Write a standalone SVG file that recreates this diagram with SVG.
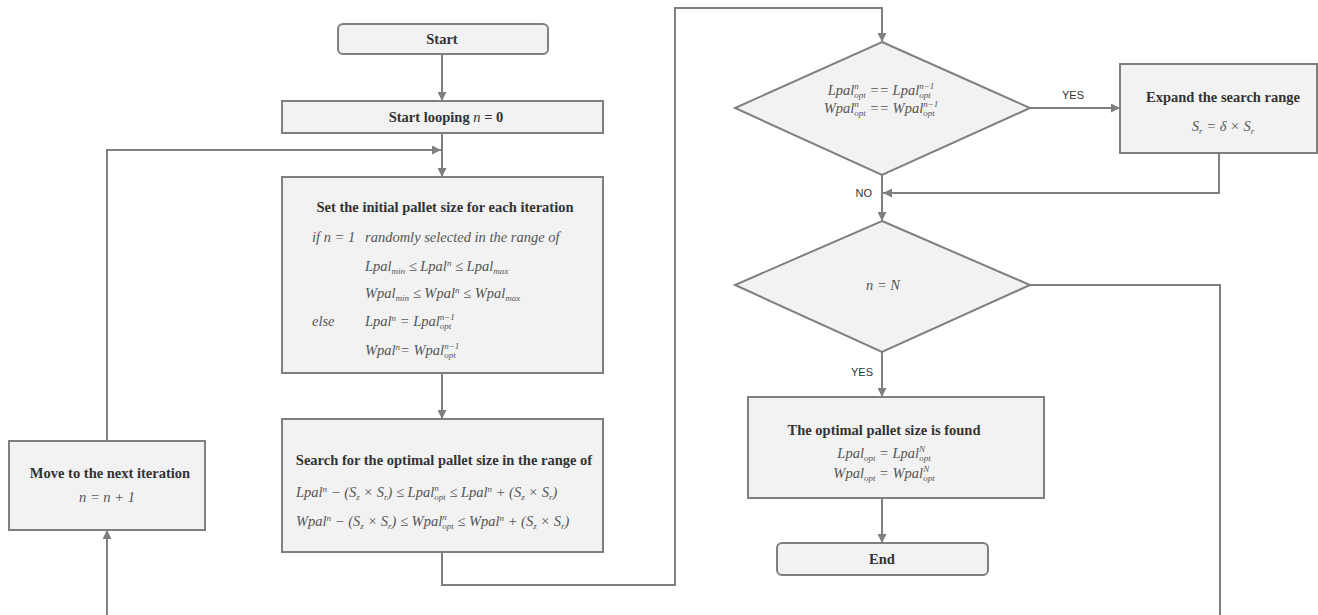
<svg xmlns="http://www.w3.org/2000/svg" width="1318" height="615" viewBox="0 0 1318 615">
<defs>
<marker id="ah" viewBox="0 0 10 10" refX="10" refY="5" markerWidth="9" markerHeight="9" markerUnits="userSpaceOnUse" orient="auto"><path d="M0,0 L10,5 L0,10 z" fill="#7f7f7f"/></marker>
<style>
.box{fill:#f2f2f2;stroke:#7f7f7f;stroke-width:2}
.ln{fill:none;stroke:#7f7f7f;stroke-width:2}
.t{font-family:"Liberation Serif","Times New Roman",serif;font-weight:bold;font-size:14.5px;fill:#333;text-anchor:middle}
.m{font-family:"Liberation Serif","Times New Roman",serif;font-style:italic;font-size:14.5px;fill:#555}
.c{text-anchor:middle}
.s{font-size:9px}
.lb{font-family:"Liberation Sans",Arial,sans-serif;font-size:11px;fill:#333}
</style>
</defs>
<rect width="1318" height="615" fill="#ffffff"/>
<g id="connectors">
<path class="ln" d="M442,54 V101" marker-end="url(#ah)"/>
<path class="ln" d="M442,133 V177" marker-end="url(#ah)"/>
<path class="ln" d="M107,440 V150 H441" marker-end="url(#ah)"/>
<path class="ln" d="M442,373 V419" marker-end="url(#ah)"/>
<path class="ln" d="M442,552 V585 H675 V8 H882 V42" marker-end="url(#ah)"/>
<path class="ln" d="M1030,108 H1120" marker-end="url(#ah)"/>
<path class="ln" d="M1219,153 V193 H883" marker-end="url(#ah)"/>
<path class="ln" d="M882,175 V221" marker-end="url(#ah)"/>
<path class="ln" d="M1030,285 H1220 V615"/>
<path class="ln" d="M882,352 V397" marker-end="url(#ah)"/>
<path class="ln" d="M882,498 V543" marker-end="url(#ah)"/>
<path class="ln" d="M107,615 V530" marker-end="url(#ah)"/>
<text class="lb" x="1073" y="99" text-anchor="middle">YES</text>
<text class="lb" x="872" y="197" text-anchor="end">NO</text>
<text class="lb" x="873" y="376" text-anchor="end">YES</text>
</g>
<g id="start">
<rect class="box" x="338" y="24" width="210" height="30" rx="5"/>
<text class="t" x="442" y="44">Start</text>
</g>
<g id="start-loop">
<rect class="box" x="282" y="101" width="321" height="32"/>
<text class="t" x="446" y="122">Start looping  <tspan font-style="italic" font-weight="normal">n</tspan> = 0</text>
</g>
<g id="set-initial">
<rect class="box" x="282" y="177" width="321" height="196"/>
<text class="t" x="445" y="212">Set the initial pallet size for each iteration</text>
<text class="m" x="312" y="242">if n = 1</text>
<text class="m" x="365" y="242">randomly selected in the range of</text>
<text class="m" x="365" y="271">Lpal<tspan class="s" dy="3">min</tspan><tspan dy="-3"> ≤ Lpal</tspan><tspan class="s" dy="-5">n</tspan><tspan dy="5"> ≤ Lpal</tspan><tspan class="s" dy="3">max</tspan></text>
<text class="m" x="365" y="298">Wpal<tspan class="s" dy="3">min</tspan><tspan dy="-3"> ≤ Wpal</tspan><tspan class="s" dy="-5">n</tspan><tspan dy="5"> ≤ Wpal</tspan><tspan class="s" dy="3">max</tspan></text>
<text class="m" x="312" y="326">else</text>
<text class="m" x="365" y="326">Lpal<tspan class="s" dy="-5">n</tspan><tspan dy="5"> = Lpal</tspan><tspan class="s" dy="-6">n−1</tspan><tspan class="s" dx="-15" dy="9">opt</tspan></text>
<text class="m" x="365" y="355">Wpal<tspan class="s" dy="-5">n</tspan><tspan dy="5">= Wpal</tspan><tspan class="s" dy="-6">n−1</tspan><tspan class="s" dx="-15" dy="9">opt</tspan></text>
</g>
<g id="search">
<rect class="box" x="282" y="419" width="321" height="133"/>
<text class="t" x="444" y="465">Search for the optimal pallet size in the range of</text>
<text class="m" x="296" y="497">Lpal<tspan class="s" dy="-5">n</tspan><tspan dy="5"> − (S</tspan><tspan class="s" dy="3">z</tspan><tspan dy="-3"> × S</tspan><tspan class="s" dy="3">r</tspan><tspan dy="-3">) ≤ Lpal</tspan><tspan class="s" dy="-6">n</tspan><tspan class="s" dx="-4.5" dy="9">opt</tspan><tspan dy="-3"> ≤ Lpal</tspan><tspan class="s" dy="-5">n</tspan><tspan dy="5"> + (S</tspan><tspan class="s" dy="3">z</tspan><tspan dy="-3"> × S</tspan><tspan class="s" dy="3">r</tspan><tspan dy="-3">)</tspan></text>
<text class="m" x="296" y="526">Wpal<tspan class="s" dy="-5">n</tspan><tspan dy="5"> − (S</tspan><tspan class="s" dy="3">z</tspan><tspan dy="-3"> × S</tspan><tspan class="s" dy="3">r</tspan><tspan dy="-3">) ≤ Wpal</tspan><tspan class="s" dy="-6">n</tspan><tspan class="s" dx="-4.5" dy="9">opt</tspan><tspan dy="-3"> ≤ Wpal</tspan><tspan class="s" dy="-5">n</tspan><tspan dy="5"> + (S</tspan><tspan class="s" dy="3">z</tspan><tspan dy="-3"> × S</tspan><tspan class="s" dy="3">r</tspan><tspan dy="-3">)</tspan></text>
</g>
<g id="move-next">
<rect class="box" x="9" y="441" width="196" height="89"/>
<text class="t" x="110" y="478">Move to the next iteration</text>
<text class="m c" x="107" y="502">n = n + 1</text>
</g>
<g id="check-converge">
<polygon class="box" points="882,42 1030,108 882,175 735,108"/>
<text class="m c" x="881" y="95" font-size="15">Lpal<tspan class="s" dy="-6">n</tspan><tspan class="s" dx="-4.5" dy="9">opt</tspan><tspan dy="-3"> == Lpal</tspan><tspan class="s" dy="-6">n−1</tspan><tspan class="s" dx="-15" dy="9">opt</tspan></text>
<text class="m c" x="881" y="113" font-size="15">Wpal<tspan class="s" dy="-6">n</tspan><tspan class="s" dx="-4.5" dy="9">opt</tspan><tspan dy="-3"> == Wpal</tspan><tspan class="s" dy="-6">n−1</tspan><tspan class="s" dx="-15" dy="9">opt</tspan></text>
</g>
<g id="expand">
<rect class="box" x="1120" y="64" width="197" height="89"/>
<text class="t" x="1223" y="102">Expand the search range</text>
<text class="m c" x="1223" y="131" font-size="14">S<tspan class="s" dy="3">r</tspan><tspan dy="-3"> = δ × S</tspan><tspan class="s" dy="3">r</tspan></text>
</g>
<g id="check-n">
<polygon class="box" points="882,221 1030,285 882,352 735,285"/>
<text class="m c" x="883" y="290" font-size="13">n = N</text>
</g>
<g id="optimal-found">
<rect class="box" x="748" y="397" width="296" height="101"/>
<text class="t" x="884" y="435">The optimal pallet size is found</text>
<text class="m c" x="884" y="458" font-size="14">Lpal<tspan class="s" dy="3">opt</tspan><tspan dy="-3"> = Lpal</tspan><tspan class="s" dy="-6">N</tspan><tspan class="s" dx="-6" dy="9">opt</tspan></text>
<text class="m c" x="884" y="478" font-size="14">Wpal<tspan class="s" dy="3">opt</tspan><tspan dy="-3"> = Wpal</tspan><tspan class="s" dy="-6">N</tspan><tspan class="s" dx="-6" dy="9">opt</tspan></text>
</g>
<g id="end">
<rect class="box" x="777" y="543" width="211" height="32" rx="5"/>
<text class="t" x="882" y="564">End</text>
</g>
</svg>
